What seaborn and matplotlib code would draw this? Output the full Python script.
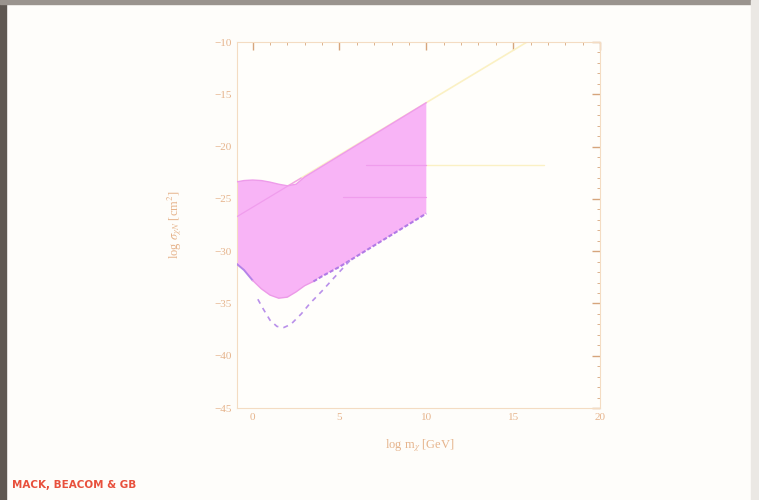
import matplotlib
matplotlib.use("Agg")
import matplotlib.pyplot as plt
import matplotlib.ticker as ticker
from matplotlib.patches import Rectangle
import seaborn as sns

# log m_chi [GeV] vs log sigma_chiN [cm^2]
top_x = [-1, -0.5, 0, 0.5, 1, 1.5, 2, 2.5, 3, 10]
top_y = [-23.4, -23.25, -23.2, -23.25, -23.4, -23.6, -23.75, -23.6, -22.9, -15.8]
bot_x = [-1, -0.5, 0, 0.5, 1, 1.5, 2, 2.5, 3, 3.5, 4, 5, 10]
bot_y = [-31.1, -31.8, -32.8, -33.6, -34.2, -34.5, -34.4, -33.9, -33.3, -32.9, -32.4, -31.5, -26.4]
dash_x = [0.3, 0.6, 1.0, 1.4, 1.8, 2.2, 2.8, 3.3, 4.0, 4.6, 5.6]
dash_y = [-34.6, -35.5, -36.6, -37.2, -37.3, -37.0, -36.0, -35.0, -33.8, -32.7, -30.9]
diag_x = [-1, 15.8]
diag_y = [-26.8, -10]
hline_x = [4.0, 16.8]
hline_y = [-21.8, -21.8]
inner_diag_x = [-1, 2.8]
inner_diag_y = [-26.8, -23.0]
inner_h1_x = [6.5, 10]
inner_h1_y = [-21.8, -21.8]
inner_h2_x = [5.2, 10]
inner_h2_y = [-24.8, -24.8]

xticks = [0, 5, 10, 15, 20]
yticks = [-10, -15, -20, -25, -30, -35, -40, -45]

sns.set_style("white")
plt.rcParams['font.family'] = ['Liberation Serif', 'DejaVu Serif']
plt.rcParams['mathtext.fontset'] = 'stix'

txt = '#e6b48c'
tickc = '#d6a57c'
spinec = '#f4dcc2'

fig = plt.figure(figsize=(7.59, 5.0), dpi=100, facecolor='#fefdfa')
# slide edges
fig.patches.append(Rectangle((0, 0), 6 / 759, 1, transform=fig.transFigure, color='#5f5852', zorder=0))
fig.patches.append(Rectangle((0, 1 - 4 / 500), 1, 4 / 500, transform=fig.transFigure, color='#9a948e', zorder=0))
fig.patches.append(Rectangle((1 - 8 / 759, 0), 8 / 759, 1, transform=fig.transFigure, color='#ebe8e4', zorder=0))

ax = fig.add_axes([237 / 759, 1 - 408 / 500, 363 / 759, 366 / 500])
ax.set_facecolor('#fffefb')

sns.lineplot(x=diag_x, y=diag_y, ax=ax, color='#fbf1c4', lw=1.2, zorder=1)
sns.lineplot(x=hline_x, y=hline_y, ax=ax, color='#fbf1c4', lw=1.0, zorder=1)

poly_x = top_x + bot_x[::-1]
poly_y = top_y + bot_y[::-1]
ax.fill(poly_x, poly_y, color='#f8b4f6', lw=0, zorder=2)
sns.lineplot(x=top_x, y=top_y, ax=ax, color='#ee9cea', lw=1.0, sort=False, zorder=3)
# lower edge: solid purple at the far left, dotted purple on the straight part
sns.lineplot(x=bot_x[:3], y=bot_y[:3], ax=ax, color='#b583e8', lw=1.4, sort=False, zorder=3)
sns.lineplot(x=bot_x[2:10], y=bot_y[2:10], ax=ax, color='#ec9ae8', lw=1.0, sort=False, zorder=3)
sns.lineplot(x=bot_x[9:], y=bot_y[9:], ax=ax, color='#b27ae6', lw=1.5, sort=False, zorder=3,
             linestyle=(0, (2, 1)))
for lx, ly in [(inner_diag_x, inner_diag_y), (inner_h1_x, inner_h1_y), (inner_h2_x, inner_h2_y)]:
    sns.lineplot(x=lx, y=ly, ax=ax, color='#f09ded', lw=0.9, zorder=3)
sns.lineplot(x=dash_x, y=dash_y, ax=ax, color='#b990ea', lw=1.2, linestyle=(0, (3, 3)), sort=False, zorder=3)

ax.set_xlim(-0.9, 20)
ax.set_ylim(-45, -10)
ax.set_xticks(xticks)
ax.set_yticks(yticks)
ax.xaxis.set_minor_locator(ticker.MultipleLocator(1))
ax.yaxis.set_minor_locator(ticker.MultipleLocator(1))
ax.tick_params(which='both', direction='in', top=True, right=True, colors=tickc,
               labelcolor=txt, labelsize=8)
ax.tick_params(which='major', length=6, width=1)
ax.tick_params(which='minor', length=2.5, width=0.6)
for s in ax.spines.values():
    s.set_color(spinec)
    s.set_linewidth(0.8)

ax.set_xlabel(r'log m$_\chi$ [GeV]', color=txt, fontsize=9)
ax.set_ylabel(r'log $\sigma_{\chi N}$ [cm$^2$]', color=txt, fontsize=9)
ax.xaxis.set_label_coords(0.505, -0.08)
ax.yaxis.set_label_coords(-0.145, 0.5)

fig.text(12 / 759, 1 - 488 / 500, 'MACK, BEACOM & GB', color='#e8503c', fontsize=7.5,
         fontweight='bold', family=['DejaVu Sans'])

fig.savefig('out.png', dpi=100, facecolor=fig.get_facecolor())
